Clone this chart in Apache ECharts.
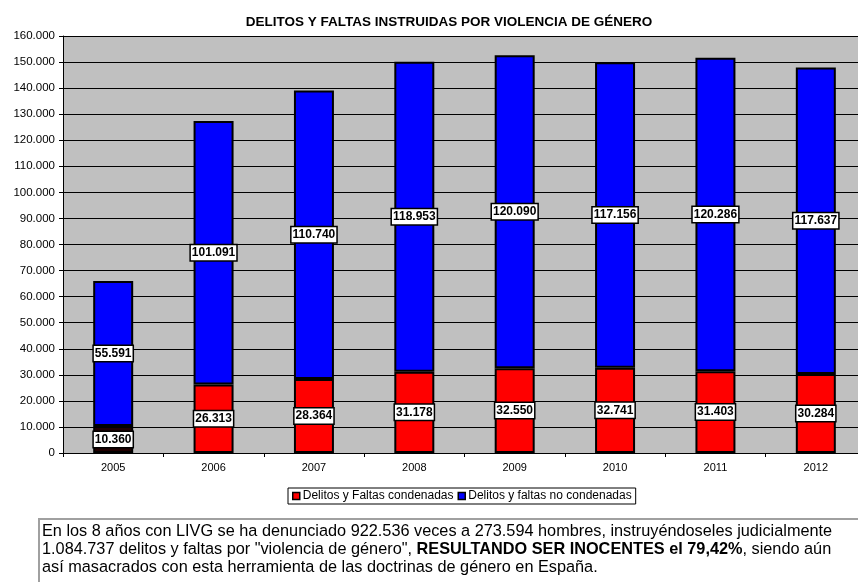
<!DOCTYPE html>
<html><head><meta charset="utf-8">
<script src="https://cdn.jsdelivr.net/npm/echarts@6/dist/echarts.min.js"></script>
<style>html,body{margin:0;padding:0;background:#fff}#c{width:858px;height:582px}</style>
</head><body><div id="c"></div>
<script>
const years = ['2005','2006','2007','2008','2009','2010','2011','2012'];
const condenadas = [10360, 26313, 28364, 31178, 32550, 32741, 31403, 30284];
const noCondenadas = [55591, 101091, 110740, 118953, 120090, 117156, 120286, 117637];
const yTicks = [0,10000,20000,30000,40000,50000,60000,70000,80000,90000,100000,110000,120000,130000,140000,150000,160000];

const FONT = '"Liberation Sans", Arial, sans-serif';
const fmt = v => String(v).replace(/\B(?=(\d{3})+(?!\d))/g, '.');

const lbl = {
  show: true, position: 'inside', formatter: p => fmt(p.value),
  color: '#000', fontFamily: FONT, fontWeight: 'bold', fontSize: 12,
  backgroundColor: '#fff', borderColor: '#000', borderWidth: 1.5, padding: [2, 1, 1, 1]
};

const chart = echarts.init(document.getElementById('c'), null, {renderer: 'canvas'});
chart.setOption({
  animation: false,
  title: {
    text: 'DELITOS Y FALTAS INSTRUIDAS POR VIOLENCIA DE GÉNERO',
    left: 444, top: 10, textAlign: 'center',
    textStyle: {fontFamily: FONT, fontSize: 13.5, fontWeight: 'bold', color: '#000'}
  },
  grid: {left: 63, top: 36, right: -8, height: 417, backgroundColor: '#c0c0c0', show: true, borderWidth: 0,
         outerBoundsMode: 'none', containLabel: false},
  legend: {
    left: 288, top: 488,
    backgroundColor: '#fff', borderColor: '#000', borderWidth: 1, padding: [2, 4, 2, 4],
    itemWidth: 7, itemHeight: 7, itemGap: 4, icon: 'rect',
    textStyle: {fontFamily: FONT, fontSize: 12, color: '#000', padding: [0, 0, 0, -2]},
    data: [
      {name: 'Delitos y Faltas condenadas', itemStyle: {color: '#ff0000', borderColor: '#000', borderWidth: 1.5}},
      {name: 'Delitos y faltas no condenadas', itemStyle: {color: '#0000ff', borderColor: '#000', borderWidth: 1.5}}
    ]
  },
  xAxis: {
    type: 'category', data: years, boundaryGap: true,
    axisLine: {lineStyle: {color: '#000', width: 1}},
    axisTick: {show: true, inside: false, length: 4, lineStyle: {color: '#000'}},
    axisLabel: {fontFamily: FONT, fontSize: 11, color: '#000', margin: 9}
  },
  yAxis: {
    type: 'value', min: 0, max: 160000, interval: 10000,
    axisLine: {show: true, lineStyle: {color: '#000', width: 1}},
    axisTick: {show: true, length: 4, lineStyle: {color: '#000'}},
    axisLabel: {fontFamily: FONT, fontSize: 11.5, color: '#000', margin: 8,
      formatter: v => yTicks.includes(v) ? (v === 0 ? '0' : fmt(v)) : ''},
    splitLine: {show: true, lineStyle: {color: '#000', width: 1}}
  },
  series: [
    {
      name: 'Delitos y Faltas condenadas', type: 'bar', stack: 't', barWidth: 40,
      data: condenadas.map((v, i) => i === 0 ? {value: v, itemStyle: {color: '#200000'}} : v),
      itemStyle: {color: '#ff0000', borderColor: '#000', borderWidth: 2},
      label: lbl
    },
    {
      name: 'Delitos y faltas no condenadas', type: 'bar', stack: 't', barWidth: 40,
      data: noCondenadas,
      itemStyle: {color: '#0000ff', borderColor: '#000', borderWidth: 2},
      label: lbl
    }
  ],
  graphic: [
    {type: 'rect', left: 38, top: 518, shape: {width: 830, height: 70},
     style: {fill: '#fff', stroke: '#a0a0a0', lineWidth: 2}},
    {type: 'text', left: 42, top: 523,
     style: {
       text: 'En los 8 años con LIVG se ha denunciado 922.536 veces a 273.594 hombres, instruyéndoseles judicialmente\n1.084.737 delitos y faltas por "violencia de género", {b|RESULTANDO SER INOCENTES el 79,42%}, siendo aún\nasí masacrados con esta herramienta de las doctrinas de género en España.',
       fontFamily: FONT, fontSize: 16.3, lineHeight: 18, fill: '#000',
       rich: {b: {fontFamily: FONT, fontSize: 16.3, fontWeight: 'bold', lineHeight: 18}}
     }}
  ]
});
</script></body></html>
